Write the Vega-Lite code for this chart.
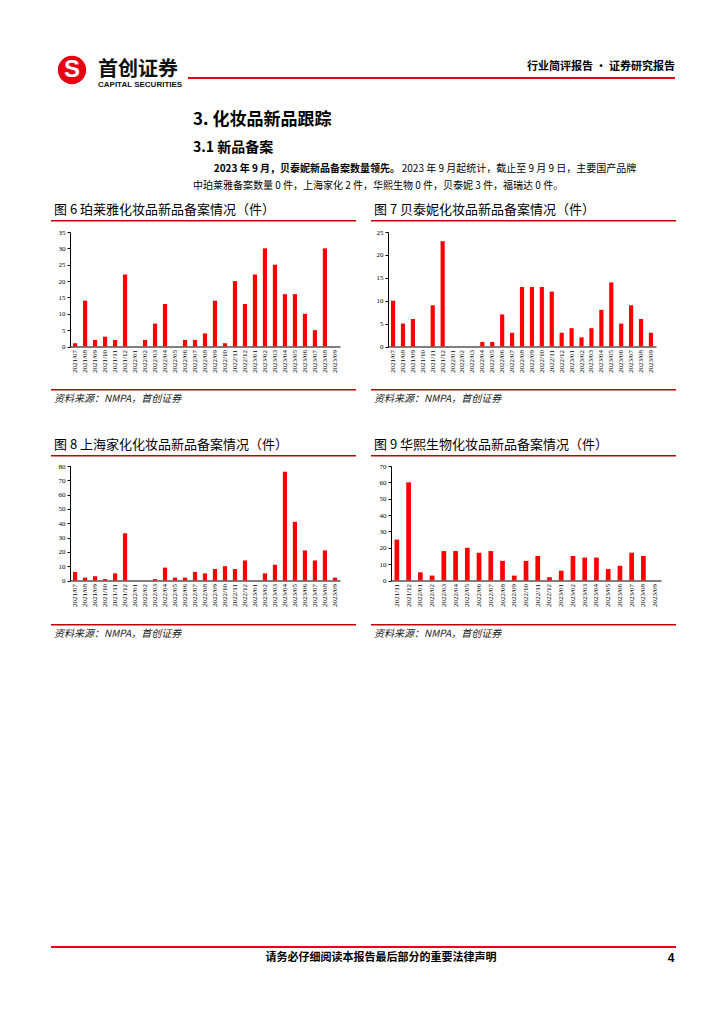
{
  "$schema": "https://vega.github.io/schema/vega-lite/v6.json",
  "background": "white",
  "padding": {"left": 48, "top": 50, "right": 0, "bottom": 0},
  "config": {
    "view": {"stroke": null},
    "concat": {"spacing": 0},
    "font": "Noto Sans CJK SC",
    "title": {"font": "Noto Sans CJK SC", "fontWeight": "normal", "color": "#000", "anchor": "start", "fontSize": 12, "subtitleFont": "Noto Sans CJK SC", "subtitleColor": "#000"},
    "axis": {"grid": false, "domainColor": "#000", "tickColor": "#000", "labelColor": "#000", "labelFont": "Liberation Serif", "labelFontSize": 7, "domainWidth": 1, "tickWidth": 1},
    "axisX": {"labelAngle": 270, "ticks": false, "labelPadding": 3},
    "axisY": {"tickSize": 3, "labelPadding": 2}
  },
  "datasets": {
    "ply": [
      {"month": "2021/07", "count": 1}, {"month": "2021/08", "count": 14}, {"month": "2021/09", "count": 2}, {"month": "2021/10", "count": 3}, {"month": "2021/11", "count": 2}, {"month": "2021/12", "count": 22},
      {"month": "2022/01", "count": 0}, {"month": "2022/02", "count": 2}, {"month": "2022/03", "count": 7}, {"month": "2022/04", "count": 13}, {"month": "2022/05", "count": 0}, {"month": "2022/06", "count": 2},
      {"month": "2022/07", "count": 2}, {"month": "2022/08", "count": 4}, {"month": "2022/09", "count": 14}, {"month": "2022/10", "count": 1}, {"month": "2022/11", "count": 20}, {"month": "2022/12", "count": 13},
      {"month": "2023/01", "count": 22}, {"month": "2023/02", "count": 30}, {"month": "2023/03", "count": 25}, {"month": "2023/04", "count": 16}, {"month": "2023/05", "count": 16}, {"month": "2023/06", "count": 10},
      {"month": "2023/07", "count": 5}, {"month": "2023/08", "count": 30}, {"month": "2023/09", "count": 0}
    ],
    "btn": [
      {"month": "2021/07", "count": 10}, {"month": "2021/08", "count": 5}, {"month": "2021/09", "count": 6}, {"month": "2021/10", "count": 0}, {"month": "2021/11", "count": 9}, {"month": "2021/12", "count": 23},
      {"month": "2022/01", "count": 0}, {"month": "2022/02", "count": 0}, {"month": "2022/03", "count": 0}, {"month": "2022/04", "count": 1}, {"month": "2022/05", "count": 1}, {"month": "2022/06", "count": 7},
      {"month": "2022/07", "count": 3}, {"month": "2022/08", "count": 13}, {"month": "2022/09", "count": 13}, {"month": "2022/10", "count": 13}, {"month": "2022/11", "count": 12}, {"month": "2022/12", "count": 3},
      {"month": "2023/01", "count": 4}, {"month": "2023/02", "count": 2}, {"month": "2023/03", "count": 4}, {"month": "2023/04", "count": 8}, {"month": "2023/05", "count": 14}, {"month": "2023/06", "count": 5},
      {"month": "2023/07", "count": 9}, {"month": "2023/08", "count": 6}, {"month": "2023/09", "count": 3}
    ],
    "shjh": [
      {"month": "2021/07", "count": 6}, {"month": "2021/08", "count": 2}, {"month": "2021/09", "count": 3}, {"month": "2021/10", "count": 1}, {"month": "2021/11", "count": 5}, {"month": "2021/12", "count": 33},
      {"month": "2022/01", "count": 0}, {"month": "2022/02", "count": 0}, {"month": "2022/03", "count": 1}, {"month": "2022/04", "count": 9}, {"month": "2022/05", "count": 2}, {"month": "2022/06", "count": 2},
      {"month": "2022/07", "count": 6}, {"month": "2022/08", "count": 5}, {"month": "2022/09", "count": 8}, {"month": "2022/10", "count": 10}, {"month": "2022/11", "count": 8}, {"month": "2022/12", "count": 14},
      {"month": "2023/01", "count": 0}, {"month": "2023/02", "count": 5}, {"month": "2023/03", "count": 11}, {"month": "2023/04", "count": 76}, {"month": "2023/05", "count": 41}, {"month": "2023/06", "count": 21},
      {"month": "2023/07", "count": 14}, {"month": "2023/08", "count": 21}, {"month": "2023/09", "count": 2}
    ],
    "hxsw": [
      {"month": "2021/11", "count": 25}, {"month": "2021/12", "count": 60},
      {"month": "2022/01", "count": 5}, {"month": "2022/02", "count": 3}, {"month": "2022/03", "count": 18}, {"month": "2022/04", "count": 18}, {"month": "2022/05", "count": 20}, {"month": "2022/06", "count": 17},
      {"month": "2022/07", "count": 18}, {"month": "2022/08", "count": 12}, {"month": "2022/09", "count": 3}, {"month": "2022/10", "count": 12}, {"month": "2022/11", "count": 15}, {"month": "2022/12", "count": 2},
      {"month": "2023/01", "count": 6}, {"month": "2023/02", "count": 15}, {"month": "2023/03", "count": 14}, {"month": "2023/04", "count": 14}, {"month": "2023/05", "count": 7}, {"month": "2023/06", "count": 9},
      {"month": "2023/07", "count": 17}, {"month": "2023/08", "count": 15}, {"month": "2023/09", "count": 0}
    ]
  },
  "spacing": 0,
  "vconcat": [
    {
      "spacing": 0,
      "hconcat": [
        {"width": 42, "height": 40, "data": {"values": [{}]},
         "layer": [
           {"mark": {"type": "point", "shape": "circle", "filled": true, "size": 800, "color": "#e60012", "opacity": 1}, "encoding": {}},
           {"mark": {"type": "text", "text": "S", "font": "Liberation Sans", "fontWeight": "bold", "fontSize": 24, "color": "white"}, "encoding": {}}
         ]},
        {"width": 95, "height": 8, "data": {"values": [{}]}, "mark": {"type": "point", "opacity": 0}, "encoding": {},
         "title": {"text": "首创证券", "subtitle": "CAPITAL SECURITIES", "orient": "bottom", "anchor": "start", "dx": 5, "offset": 2, "fontSize": 20, "fontWeight": "bold", "color": "#111", "subtitleFont": "Liberation Sans", "subtitleFontSize": 8, "subtitleFontWeight": "bold", "subtitlePadding": 1, "subtitleColor": "#111"}},
        {"bounds": "flush", "spacing": 0,
         "vconcat": [
           {"width": 487, "height": 26.5, "data": {"values": [{}]}, "mark": {"type": "point", "opacity": 0}, "encoding": {}},
           {"width": 487, "height": 2, "data": {"values": [{}]}, "mark": {"type": "point", "opacity": 0}, "encoding": {},
            "view": {"fill": "#e60012", "stroke": null},
            "title": {"text": "行业简评报告 · 证券研究报告", "orient": "top", "anchor": "end", "fontSize": 11, "fontWeight": "bold", "offset": 3}}
         ]}
      ]
    },
    {
      "spacing": 0,
      "hconcat": [
        {"width": 142, "height": 1, "data": {"values": [{}]}, "mark": {"type": "point", "opacity": 0}, "encoding": {}},
        {"spacing": 0,
         "vconcat": [
           {"width": 480, "height": 19, "data": {"values": [{}]}, "mark": {"type": "point", "opacity": 0}, "encoding": {},
            "title": {"text": "3. 化妆品新品跟踪", "orient": "bottom", "anchor": "start", "fontSize": 17, "fontWeight": "bold", "offset": 0}},
           {"width": 480, "height": 13, "data": {"values": [{}]}, "mark": {"type": "point", "opacity": 0}, "encoding": {},
            "title": {"text": "3.1  新品备案", "orient": "bottom", "anchor": "start", "fontSize": 14, "fontWeight": "bold", "offset": 0}},
           {"spacing": 0,
            "hconcat": [
              {"width": 20, "height": 9, "data": {"values": [{}]}, "mark": {"type": "point", "opacity": 0}, "encoding": {}},
              {"width": 1, "height": 9, "data": {"values": [{}]}, "mark": {"type": "point", "opacity": 0}, "encoding": {},
               "title": {"text": "2023 年 9 月，贝泰妮新品备案数量领先。", "orient": "bottom", "anchor": "start", "fontSize": 10, "fontWeight": "bold", "offset": 0}},
              {"width": 1, "height": 9, "data": {"values": [{}]}, "mark": {"type": "point", "opacity": 0}, "encoding": {},
               "title": {"text": "2023 年 9 月起统计，截止至 9 月 9 日，主要国产品牌", "orient": "bottom", "anchor": "start", "fontSize": 10, "offset": 0}}
            ]},
           {"width": 480, "height": 7, "data": {"values": [{}]}, "mark": {"type": "point", "opacity": 0}, "encoding": {},
            "title": {"text": "中珀莱雅备案数量 0 件，上海家化 2 件，华熙生物 0 件，贝泰妮 3 件，福瑞达 0 件。", "orient": "bottom", "anchor": "start", "fontSize": 10, "offset": 0}}
         ]}
      ]
    },
    {"width": 1, "height": 13, "data": {"values": [{}]}, "mark": {"type": "point", "opacity": 0}, "encoding": {}},
    {
      "spacing": 15,
      "hconcat": [
        {"spacing": 0,
         "vconcat": [
           {"width": 305, "height": 1.5, "data": {"values": [{}]}, "mark": {"type": "point", "opacity": 0}, "encoding": {}, "view": {"fill": "#c00000", "stroke": null},
            "title": {"text": "图 6 珀莱雅化妆品新品备案情况（件）", "orient": "top", "anchor": "start", "fontSize": 13, "offset": 1, "dx": 3}},
           {"width": 305, "height": 3.5, "data": {"values": [{}]}, "mark": {"type": "point", "opacity": 0, "size": 0, "strokeWidth": 0}, "encoding": {}},
           {"bounds": "flush", "spacing": 0,
            "hconcat": [
              {"width": 19, "height": 1, "data": {"values": [{}]}, "mark": {"type": "point", "opacity": 0}, "encoding": {}},
              {"width": 270, "height": 114.5, "data": {"name": "ply"}, "mark": {"type": "bar", "color": "#ff0000"},
               "encoding": {
                 "x": {"field": "month", "type": "ordinal", "sort": null, "title": null, "scale": {"paddingInner": 0.58, "paddingOuter": 0.3}},
                 "y": {"field": "count", "type": "quantitative", "title": null, "scale": {"domain": [0, 35], "nice": false}, "axis": {"values": [0, 5, 10, 15, 20, 25, 30, 35]}}
               }}
            ]},
           {"width": 305, "height": 14, "data": {"values": [{}]}, "mark": {"type": "point", "opacity": 0}, "encoding": {}},
           {"width": 305, "height": 1.5, "data": {"values": [{}]}, "mark": {"type": "point", "opacity": 0}, "encoding": {}, "view": {"fill": "#c00000", "stroke": null},
            "title": {"text": "资料来源：NMPA，首创证券", "orient": "bottom", "anchor": "start", "fontSize": 10, "fontStyle": "italic", "offset": 2, "dx": 3, "color": "#222"}}
         ]},
        {"spacing": 0,
         "vconcat": [
           {"width": 305, "height": 1.5, "data": {"values": [{}]}, "mark": {"type": "point", "opacity": 0}, "encoding": {}, "view": {"fill": "#c00000", "stroke": null},
            "title": {"text": "图 7 贝泰妮化妆品新品备案情况（件）", "orient": "top", "anchor": "start", "fontSize": 13, "offset": 1, "dx": 3}},
           {"width": 305, "height": 3.5, "data": {"values": [{}]}, "mark": {"type": "point", "opacity": 0, "size": 0, "strokeWidth": 0}, "encoding": {}},
           {"bounds": "flush", "spacing": 0,
            "hconcat": [
              {"width": 17, "height": 1, "data": {"values": [{}]}, "mark": {"type": "point", "opacity": 0}, "encoding": {}},
              {"width": 268, "height": 114.5, "data": {"name": "btn"}, "mark": {"type": "bar", "color": "#ff0000"},
               "encoding": {
                 "x": {"field": "month", "type": "ordinal", "sort": null, "title": null, "scale": {"paddingInner": 0.58, "paddingOuter": 0.3}},
                 "y": {"field": "count", "type": "quantitative", "title": null, "scale": {"domain": [0, 25], "nice": false}, "axis": {"values": [0, 5, 10, 15, 20, 25]}}
               }}
            ]},
           {"width": 305, "height": 14, "data": {"values": [{}]}, "mark": {"type": "point", "opacity": 0}, "encoding": {}},
           {"width": 305, "height": 1.5, "data": {"values": [{}]}, "mark": {"type": "point", "opacity": 0}, "encoding": {}, "view": {"fill": "#c00000", "stroke": null},
            "title": {"text": "资料来源：NMPA，首创证券", "orient": "bottom", "anchor": "start", "fontSize": 10, "fontStyle": "italic", "offset": 2, "dx": 3, "color": "#222"}}
         ]}
      ]
    },
    {"width": 1, "height": 34, "data": {"values": [{}]}, "mark": {"type": "point", "opacity": 0}, "encoding": {}},
    {
      "spacing": 15,
      "hconcat": [
        {"spacing": 0,
         "vconcat": [
           {"width": 305, "height": 1.5, "data": {"values": [{}]}, "mark": {"type": "point", "opacity": 0}, "encoding": {}, "view": {"fill": "#c00000", "stroke": null},
            "title": {"text": "图 8 上海家化化妆品新品备案情况（件）", "orient": "top", "anchor": "start", "fontSize": 13, "offset": 1, "dx": 3}},
           {"width": 305, "height": 3, "data": {"values": [{}]}, "mark": {"type": "point", "opacity": 0, "size": 0, "strokeWidth": 0}, "encoding": {}},
           {"bounds": "flush", "spacing": 0,
            "hconcat": [
              {"width": 19, "height": 1, "data": {"values": [{}]}, "mark": {"type": "point", "opacity": 0}, "encoding": {}},
              {"width": 270, "height": 114.5, "data": {"name": "shjh"}, "mark": {"type": "bar", "color": "#ff0000"},
               "encoding": {
                 "x": {"field": "month", "type": "ordinal", "sort": null, "title": null, "scale": {"paddingInner": 0.58, "paddingOuter": 0.3}},
                 "y": {"field": "count", "type": "quantitative", "title": null, "scale": {"domain": [0, 80], "nice": false}, "axis": {"values": [0, 10, 20, 30, 40, 50, 60, 70, 80]}}
               }}
            ]},
           {"width": 305, "height": 15, "data": {"values": [{}]}, "mark": {"type": "point", "opacity": 0}, "encoding": {}},
           {"width": 305, "height": 1.5, "data": {"values": [{}]}, "mark": {"type": "point", "opacity": 0}, "encoding": {}, "view": {"fill": "#c00000", "stroke": null},
            "title": {"text": "资料来源：NMPA，首创证券", "orient": "bottom", "anchor": "start", "fontSize": 10, "fontStyle": "italic", "offset": 2, "dx": 3, "color": "#222"}}
         ]},
        {"spacing": 0,
         "vconcat": [
           {"width": 305, "height": 1.5, "data": {"values": [{}]}, "mark": {"type": "point", "opacity": 0}, "encoding": {}, "view": {"fill": "#c00000", "stroke": null},
            "title": {"text": "图 9 华熙生物化妆品新品备案情况（件）", "orient": "top", "anchor": "start", "fontSize": 13, "offset": 1, "dx": 3}},
           {"width": 305, "height": 3, "data": {"values": [{}]}, "mark": {"type": "point", "opacity": 0, "size": 0, "strokeWidth": 0}, "encoding": {}},
           {"bounds": "flush", "spacing": 0,
            "hconcat": [
              {"width": 20, "height": 1, "data": {"values": [{}]}, "mark": {"type": "point", "opacity": 0}, "encoding": {}},
              {"width": 270, "height": 114.5, "data": {"name": "hxsw"}, "mark": {"type": "bar", "color": "#ff0000"},
               "encoding": {
                 "x": {"field": "month", "type": "ordinal", "sort": null, "title": null, "scale": {"paddingInner": 0.6, "paddingOuter": 0.3}},
                 "y": {"field": "count", "type": "quantitative", "title": null, "scale": {"domain": [0, 70], "nice": false}, "axis": {"values": [0, 10, 20, 30, 40, 50, 60, 70]}}
               }}
            ]},
           {"width": 305, "height": 15, "data": {"values": [{}]}, "mark": {"type": "point", "opacity": 0}, "encoding": {}},
           {"width": 305, "height": 1.5, "data": {"values": [{}]}, "mark": {"type": "point", "opacity": 0}, "encoding": {}, "view": {"fill": "#c00000", "stroke": null},
            "title": {"text": "资料来源：NMPA，首创证券", "orient": "bottom", "anchor": "start", "fontSize": 10, "fontStyle": "italic", "offset": 2, "dx": 3, "color": "#222"}}
         ]}
      ]
    },
    {"width": 1, "height": 303.5, "data": {"values": [{}]}, "mark": {"type": "point", "opacity": 0}, "encoding": {}},
    {"width": 625, "height": 2, "data": {"values": [{}]}, "mark": {"type": "point", "opacity": 0}, "encoding": {}, "view": {"fill": "#e60012", "stroke": null}},
    {
      "spacing": 0,
      "hconcat": [
        {"width": 210, "height": 16, "data": {"values": [{}]}, "mark": {"type": "point", "opacity": 0}, "encoding": {}},
        {"width": 240, "height": 16, "data": {"values": [{}]}, "mark": {"type": "text", "text": "请务必仔细阅读本报告最后部分的重要法律声明", "fontSize": 11, "fontWeight": "bold", "font": "Noto Sans CJK SC", "color": "#000"}, "encoding": {}},
        {"width": 165, "height": 16, "data": {"values": [{}]}, "mark": {"type": "point", "opacity": 0}, "encoding": {}},
        {"width": 10, "height": 16, "data": {"values": [{}]}, "mark": {"type": "text", "text": "4", "fontSize": 12, "fontWeight": "bold", "font": "Liberation Sans", "color": "#000"}, "encoding": {}}
      ]
    }
  ]
}
